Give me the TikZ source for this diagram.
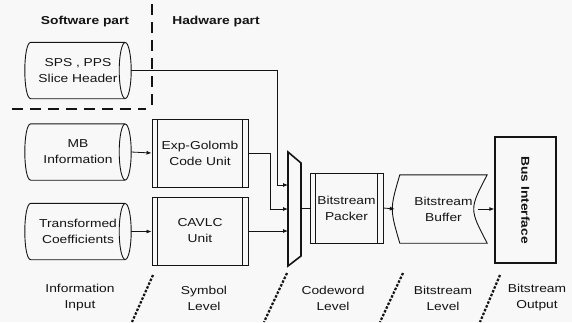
\documentclass[tikz,border=0pt]{standalone}
\usepackage{fontspec}
\setmainfont{Liberation Sans}[FakeStretch=1.2]
\usepackage{tikz}
\usetikzlibrary{arrows.meta}
\definecolor{paper}{RGB}{248, 248, 248}
\definecolor{ink}{RGB}{20, 20, 20}

\tikzset{
  txt/.style={font=\fontsize{11.5}{16}\selectfont, align=center, text=ink},
  store/.style={txt, minimum width=106pt, minimum height=56pt, inner sep=1pt},
  unitbox/.style={txt, draw=ink, line width=0.9pt, minimum width=96pt, minimum height=68pt,
    path picture={
      \draw[line width=0.9pt] ([xshift=5pt]path picture bounding box.north west) -- ([xshift=5pt]path picture bounding box.south west);
      \draw[line width=0.9pt] ([xshift=-6pt]path picture bounding box.north east) -- ([xshift=-6pt]path picture bounding box.south east);
    }},
  wire/.style={draw=ink, line width=0.8pt, -{Latex[length=5pt, width=4pt]}},
  divide/.style={draw=ink, line width=2.2pt, dash pattern=on 11pt off 7pt},
  levelsep/.style={draw=ink, line width=2.2pt, dash pattern=on 2.5pt off 1.6pt},
}
% outline of a stored-data cylinder round a named node
\newcommand{\drawstore}[1]{%
  \draw[ink, line width=0.9pt] ([xshift=-6pt]#1.north east) -- ([xshift=6pt]#1.north west)
    .. controls ([xshift=-2pt]#1.north west) and ([xshift=-2pt]#1.south west) .. ([xshift=6pt]#1.south west)
    -- ([xshift=-6pt]#1.south east);
  \draw[ink, line width=0.9pt] ([xshift=-6pt]#1.east) ellipse [x radius=6pt, y radius=28pt];
}

\begin{document}
\begin{tikzpicture}[x=1pt, y=-1pt]
			\fill[paper] (0,0) rectangle (572,322);
			\useasboundingbox (0,0) rectangle (572,322);

			% software / hardware split
			\node[txt, font=\fontsize{11.5}{16}\selectfont\bfseries] (sw) at (85,22) {Software part};
			\node[txt, font=\fontsize{11.5}{16}\selectfont\bfseries] (hw) at (216,22) {Hadware part};
			\draw[divide] (152,4) -- (152,110);
			\draw[divide] (12,109) -- (146,109);

			% information input
			\node[store] (sps) at (78,70.5) {SPS , PPS\\Slice Header};
			\node[store] (mb) at (78,152) {MB\\Information};
			\node[store] (coef) at (78,231.5) {Transformed\\Coefficients};
			\drawstore{sps}
			\drawstore{mb}
			\drawstore{coef}

			% symbol level
			\node[unitbox] (eg) at (200,153) {Exp-Golomb\\Code Unit};
			\node[unitbox] (cavlc) at (200,231) {CAVLC\\Unit};

			% mux
			\coordinate (mux-a) at (288,185);
			\coordinate (mux-b) at (288,209);
			\coordinate (mux-c) at (288,231);
			\coordinate (mux-out) at (301,208);
			\draw[ink, line width=1.6pt, line join=miter] (288,152) -- (301,163) -- (301,256) -- (288,266) -- cycle;

			% codeword / bitstream level
			\node[unitbox, minimum width=73pt, minimum height=70pt] (pk) at (346.5,208) {Bitstream\\Packer};
			\node[txt, minimum width=87pt, minimum height=68pt] (buf) at (443.5,209) {Bitstream\\Buffer};
			\draw[ink, line width=0.9pt] (buf.north west) .. controls ([xshift=-10pt]buf.west) .. (buf.south west)
				-- (buf.south east) .. controls ([xshift=-18pt]buf.east) .. (buf.north east) -- cycle;
			\coordinate (buf-in) at ([xshift=-5pt]buf.west);
			\coordinate (buf-out) at ([xshift=-9pt]buf.east);

			% bitstream output
			\node[txt, draw=ink, line width=1.3pt, minimum width=61pt, minimum height=126pt] (bus) at (525.5,200) {};
			\node[txt, font=\fontsize{11.5}{16}\selectfont\bfseries, rotate=-90] (buslbl) at (bus.center) {Bus Interface};

			% connectors
			\draw[wire] (mb.east) -- (eg.west);
			\draw[wire] (coef.east) -- (cavlc.west |- coef.east);
			\draw[wire] (sps.east) -| ([xshift=-11pt]mux-a) -- (mux-a);
			\draw[wire] (eg.east) -| ([xshift=-18pt]mux-b) -- (mux-b);
			\draw[wire] (cavlc.east) -- (mux-c);
			\draw[ink, line width=0.6pt] (mux-out) -- (pk.west |- mux-out);
			\draw[wire] (pk.east) -- (buf-in);
			\draw[wire] (buf-out) -- (buf-out -| bus.west);

			% level labels
			\node[txt] (l1) at (80,298) {Information\\Input};
			\node[txt] (l2) at (204,298) {Symbol\\Level};
			\node[txt] (l3) at (333,298) {Codeword\\Level};
			\node[txt] (l4) at (443,298) {Bitstream\\Level};
			\node[txt] (l5) at (537,298) {Bitstream\\Output};

			\draw[levelsep] (153,275) -- (132,322);
			\draw[levelsep] (287,273) -- (264,322);
			\draw[levelsep] (403,273) -- (380,322);
			\draw[levelsep] (500,275) -- (480,322);

		\end{tikzpicture}
\end{document}
